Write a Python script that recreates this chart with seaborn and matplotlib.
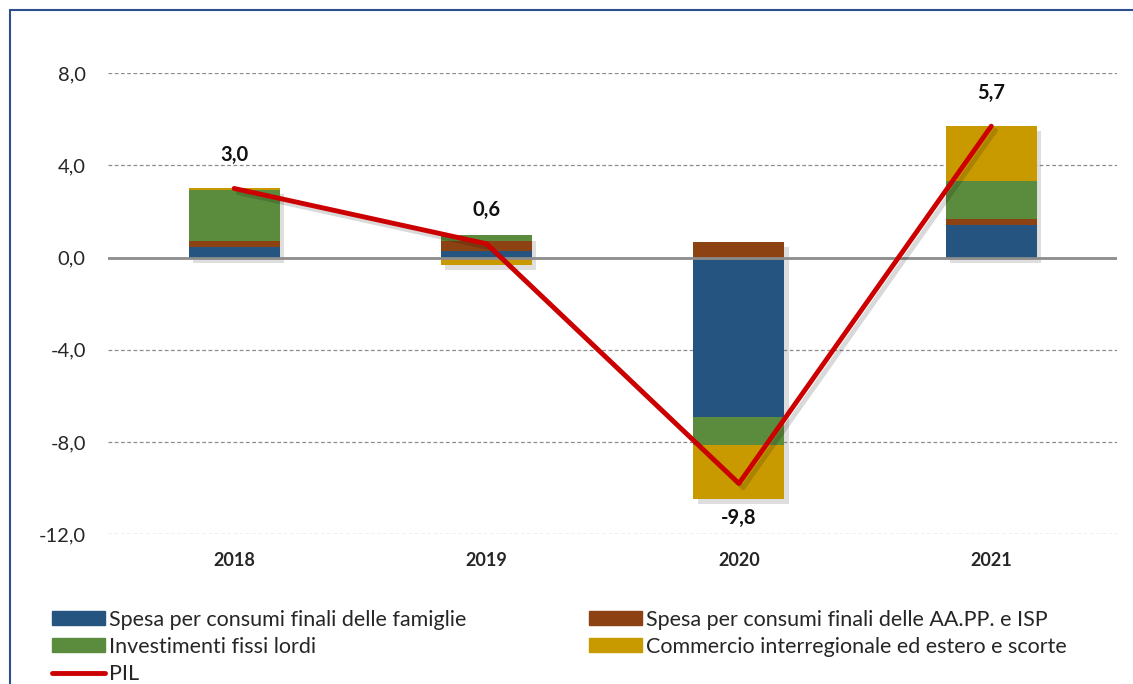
import numpy as np
import matplotlib
matplotlib.use("Agg")
import matplotlib.pyplot as plt
import matplotlib.patheffects as pe
from matplotlib.patches import Rectangle
from matplotlib.lines import Line2D
import seaborn as sns

# Data (contributi alla crescita del PIL, punti percentuali)
anni = ["2018", "2019", "2020", "2021"]
famiglie = [0.47, 0.27, -6.93, 1.43]
aapp_isp = [0.23, 0.43, 0.68, 0.26]
investimenti = [2.25, 0.27, -1.21, 1.62]
commercio = [0.05, -0.30, -2.33, 2.42]
pil = [3.0, 0.6, -9.8, 5.7]
pil_labels = ["3,0", "0,6", "-9,8", "5,7"]

series = [
    ("Spesa per consumi finali delle famiglie", famiglie, "#255481"),
    ("Spesa per consumi finali delle AA.PP. e ISP", aapp_isp, "#8C4212"),
    ("Investimenti fissi lordi", investimenti, "#5B8B3C"),
    ("Commercio interregionale ed estero e scorte", commercio, "#C89A00"),
]

sns.set_style("white")
plt.rcParams["font.family"] = ["Lato", "DejaVu Sans"]

fig = plt.figure(figsize=(11.33, 6.84), dpi=100)
ax = fig.add_axes([0.0953, 0.219, 0.891, 0.674])

# totals, for the soft shadow behind each stack
arr = np.array([s[1] for s in series])
top = np.clip(arr, 0, None).sum(axis=0)
low = np.clip(arr, None, 0).sum(axis=0)
sns.barplot(x=anni, y=top - low, bottom=low, color="white", width=0.36,
            ax=ax, saturation=1, edgecolor="none", linewidth=0)
for p in ax.patches:
    p.set_path_effects([pe.SimplePatchShadow(offset=(3, -4), alpha=0.18), pe.Normal()])

# stacked bars, positives and negatives stacked separately
pos_base = np.zeros(len(anni))
neg_base = np.zeros(len(anni))
for name, vals, col in series:
    vals = np.array(vals)
    bottom = np.where(vals >= 0, pos_base, neg_base)
    sns.barplot(x=anni, y=vals, bottom=bottom, color=col, width=0.36,
                ax=ax, saturation=1, edgecolor="none", linewidth=0)
    pos_base = pos_base + np.clip(vals, 0, None)
    neg_base = neg_base + np.clip(vals, None, 0)

# PIL line
sns.lineplot(x=np.arange(len(anni)), y=pil, color="#CC0000", linewidth=3.5,
             ax=ax, sort=False,
             path_effects=[pe.SimpleLineShadow(offset=(3, -3), alpha=0.15), pe.Normal()])

for i, (v, lab) in enumerate(zip(pil, pil_labels)):
    off = 1.45 if v >= 0 else -1.5
    ax.text(i, v + off, lab, ha="center", va="center", fontsize=14.5,
            fontweight="bold", color="#111111")

ax.set_ylim(-12, 8)
ax.set_xlim(-0.5, 3.5)
ax.set_yticks([-12, -8, -4, 0, 4, 8])
ax.set_yticklabels(["-12,0", "-8,0", "-4,0", "0,0", "4,0", "8,0"], fontsize=14.5)
ax.set_xticks(range(len(anni)))
ax.set_xticklabels(anni, fontsize=13, fontweight="bold")
ax.tick_params(axis="y", length=0, pad=16)
ax.tick_params(axis="x", length=0, pad=13)
ax.set_xlabel("")
ax.set_ylabel("")
for s in ax.spines.values():
    s.set_visible(False)
for yv in [-12, -8, -4, 4, 8]:
    ax.axhline(yv, color="#8C8C8C", linewidth=0.9, linestyle=(0, (3, 2)), zorder=0)
ax.axhline(0, color="#8C8C8C", linewidth=2, zorder=1)

# legend
handles = [
    Rectangle((0, 0), 1, 1, color=series[0][2]),
    Rectangle((0, 0), 1, 1, color=series[2][2]),
    Line2D([0], [0], color="#CC0000", linewidth=3.5),
    Rectangle((0, 0), 1, 1, color=series[1][2]),
    Rectangle((0, 0), 1, 1, color=series[3][2]),
]
labels = [series[0][0], series[2][0], "PIL", series[1][0], series[3][0]]
leg = fig.legend(handles, labels, ncol=2, loc="upper left",
                 bbox_to_anchor=(0.046, 1 - 610 / 684), bbox_transform=fig.transFigure,
                 frameon=False, fontsize=15.5, handlelength=2.45, handleheight=0.62,
                 handletextpad=0.2, columnspacing=5.7, labelspacing=0.32,
                 borderaxespad=0, borderpad=0)

# outer frame
fig.patches.append(Rectangle((10 / 1133, -0.05), 1.1, 1 - 10 / 684 + 0.05,
                             transform=fig.transFigure, fill=False,
                             edgecolor="#2E4E8C", linewidth=1.5))

fig.savefig("out.png", dpi=100)
